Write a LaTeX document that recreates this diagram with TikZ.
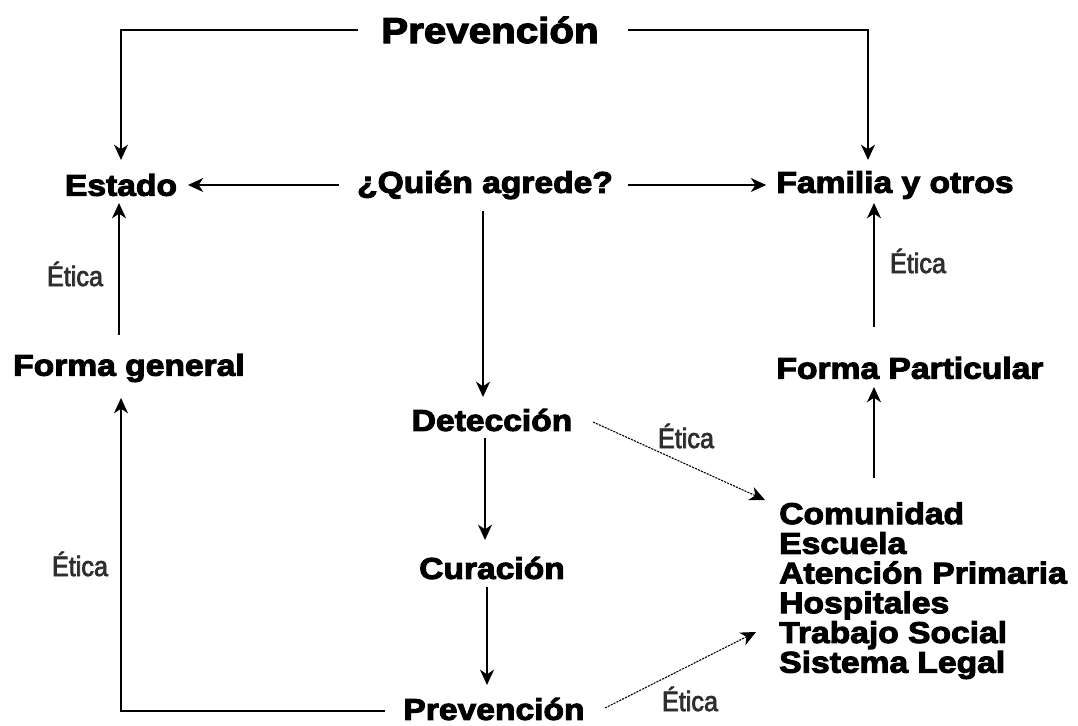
\documentclass[tikz,border=0pt]{standalone}
\usepackage{fontspec}
\usetikzlibrary{arrows.meta,calc}
\newfontface\blk{Liberation Sans Bold}[FakeBold=3.4,FakeStretch=1.12]
\newfontface\eti{Liberation Sans}[FakeBold=2.6,FakeStretch=0.9]
\begin{document}
\begin{tikzpicture}[x=0.75pt,y=-0.75pt,
  lbl/.style={inner sep=0pt, font=\blk\fontsize{22.5}{22.3}\selectfont},
  big/.style={inner sep=0pt, font=\blk\fontsize{27}{30}\selectfont},
  etica/.style={inner sep=0pt, font=\eti\fontsize{21}{22}\selectfont, text=black!82},
  arr/.style={-{Stealth[length=11.5pt,width=10.5pt,inset=3.5pt]}, line width=1.1pt},
  darr/.style={-{Stealth[length=11.5pt,width=10.5pt,inset=3.5pt]}, line width=0.8pt, dash pattern=on 1.6pt off 0.8pt}]
\useasboundingbox (0,0) rectangle (1078,725);
% nodes
\node[big] (prevtop) at (490,30) {Prevención};
\node[lbl] (estado) at (121,185) {Estado};
\node[lbl] (quien) at (485,185) {¿Quién agrede?};
\node[lbl] (familia) at (895,185) {Familia y otros};
\node[lbl] (fgen) at (129,368) {Forma general};
\node[lbl] (fpart) at (910,368) {Forma Particular};
\node[lbl] (detec) at (492,420) {Detección};
\node[lbl] (cura) at (492,568) {Curación};
\node[lbl] (prevbot) at (494,709) {Prevención};
\node[lbl, align=left, anchor=north west] (lista) at (779,502) {Comunidad\\Escuela\\Atención Primaria\\Hospitales\\Trabajo Social\\Sistema Legal};
% Ética labels
\node[etica] (e1) at (75,274) {Ética};
\node[etica] (e2) at (918,261) {Ética};
\node[etica] (e3) at (686,436) {Ética};
\node[etica] (e4) at (80,564) {Ética};
\node[etica] (e5) at (690,699) {Ética};
% coordinates for arrow ends
\coordinate (famtop) at (868,160);
\coordinate (estadoin) at (121,160);
\coordinate (fgenin) at (121,398);
\coordinate (fgenout) at (119,335);
\coordinate (estadobot) at (119,203);
\coordinate (fpartout) at (874,327);
\coordinate (familiabot) at (874,203);
\coordinate (listaout) at (874,478);
\coordinate (fpartin) at (874,387);
\coordinate (listain1) at (765,500);
\coordinate (listain2) at (756,632);
\coordinate (detout) at (593,422);
\coordinate (prevout) at (605,708);
% connectors
\draw[arr, shorten <=17pt] (prevtop.west) -| (estadoin);
\draw[arr, shorten <=22pt] (prevtop.east) -| (famtop);
\draw[arr, shorten <=13.5pt, shorten >=8pt] (quien.west) -- (estado.east);
\draw[arr, shorten <=11pt, shorten >=7.5pt] (quien.east) -- (familia.west);
\draw[arr] (quien.south -| 483,0) ++(0,12) -- (483,397);
\draw[arr] (detec.south -| 485,0) ++(0,7) -- (485,540);
\draw[arr] (cura.south -| 487,0) ++(0,8) -- (487,685);
\draw[arr] (prevbot.west) ++(-18,2) -| (fgenin);
\draw[arr] (fgenout) -- (estadobot);
\draw[arr] (fpartout) -- (familiabot);
\draw[arr] (listaout) -- (fpartin);
\draw[darr] (detout) -- (listain1);
\draw[darr] (prevout) -- (listain2);
\end{tikzpicture}
\end{document}
